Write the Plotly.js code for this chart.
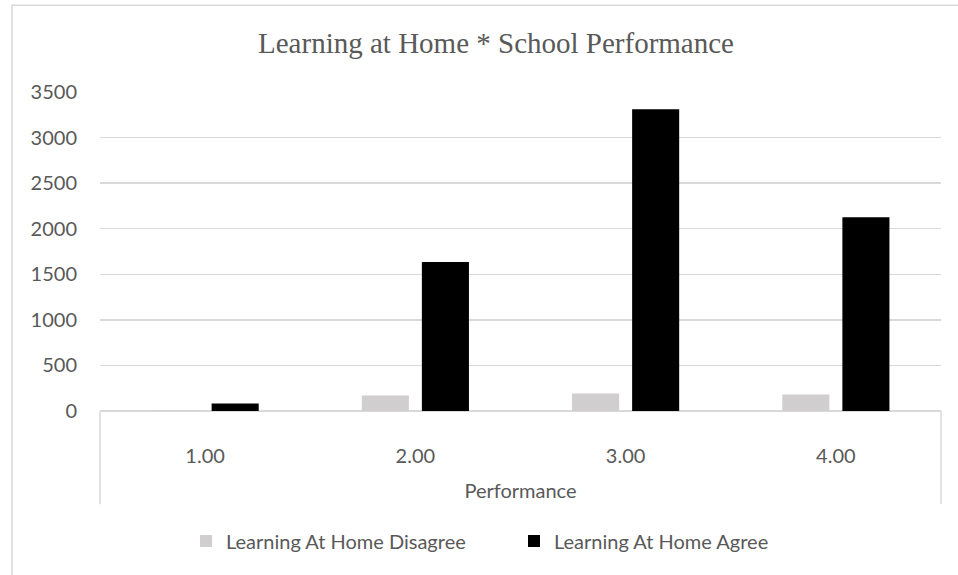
<!DOCTYPE html>
<html>
<head>
<meta charset="utf-8">
<script src="https://cdn.plot.ly/plotly-3.0.1.min.js"></script>
<style>html,body{margin:0;padding:0;background:#fff;}#chart{width:958px;height:575px;}</style>
</head>
<body>
<div id="chart"></div>
<script>
const categories = ["1.00", "2.00", "3.00", "4.00"];
const disagreeValues = [8, 170, 192, 181];
const agreeValues = [82, 1634, 3310, 2127];
const seriesNames = ["Learning At Home Disagree", "Learning At Home Agree"];
const yTicks = [0, 500, 1000, 1500, 2000, 2500, 3000, 3500];

const tickFont = {family: "Lato, Open Sans, sans-serif", size: 20, color: "#595959"};

const traces = [
  {type: "bar", x: categories, y: disagreeValues, name: seriesNames[0],
   marker: {color: "#D0CECE"}},
  {type: "bar", x: categories, y: agreeValues, name: seriesNames[1],
   marker: {color: "#000000"}}
];

const plotH = 575 - 92 - 163.5;
const layout = {
  width: 958, height: 575, autosize: false,
  margin: {l: 100, r: 17.3, t: 92, b: 163.5, pad: 0},
  paper_bgcolor: "#ffffff", plot_bgcolor: "#ffffff",
  barmode: "group", bargap: 0.4286, bargroupgap: 0.2167,
  title: {text: "Learning at Home * School Performance",
          font: {family: "Liberation Serif, Times New Roman, serif", size: 29, color: "#595959"},
          x: 496 / 958, xref: "container", xanchor: "center", y: 1 - 43/575, yanchor: "middle"},
  xaxis: {type: "category", showgrid: false, zeroline: false, showline: false,
          ticks: "", tickfont: tickFont, ticklabelstandoff: 31,
          title: {text: "Performance", font: tickFont, standoff: 17}},
  yaxis: {range: [0, 3500], tickvals: yTicks, ticktext: yTicks.map(String),
          showgrid: true, gridcolor: "#D9D9D9", gridwidth: 1.5,
          zeroline: true, zerolinecolor: "#D9D9D9", zerolinewidth: 1.5,
          showline: false, ticks: "", tickfont: tickFont, ticklabelstandoff: 22},
  showlegend: true,
  legend: {orientation: "h", x: 186 / 958, xanchor: "left", xref: "container",
           y: 1 - 541/575, yref: "container", yanchor: "middle",
           font: tickFont, itemwidth: 30, traceorder: "normal", entrywidth: 283},
  shapes: [
    {type: "line", xref: "paper", yref: "paper", x0: 0, x1: 0, y0: 0, y1: -(505 - 411.5) / plotH,
     line: {color: "#D9D9D9", width: 1.5}},
    {type: "line", xref: "paper", yref: "paper", x0: 1, x1: 1, y0: 0, y1: -(505 - 411.5) / plotH,
     line: {color: "#D9D9D9", width: 1.5}},
    {type: "rect", xref: "paper", yref: "paper",
     x0: -(100 - 12) / 840.7, x1: 1 + 30 / 840.7, y0: -(575 - 411.5 + 30) / plotH, y1: 1 + (92 - 5) / plotH,
     line: {color: "#D9D9D9", width: 1.5}}
  ]
};

Plotly.newPlot("chart", traces, layout, {displayModeBar: false, staticPlot: true});
</script>
</body>
</html>
